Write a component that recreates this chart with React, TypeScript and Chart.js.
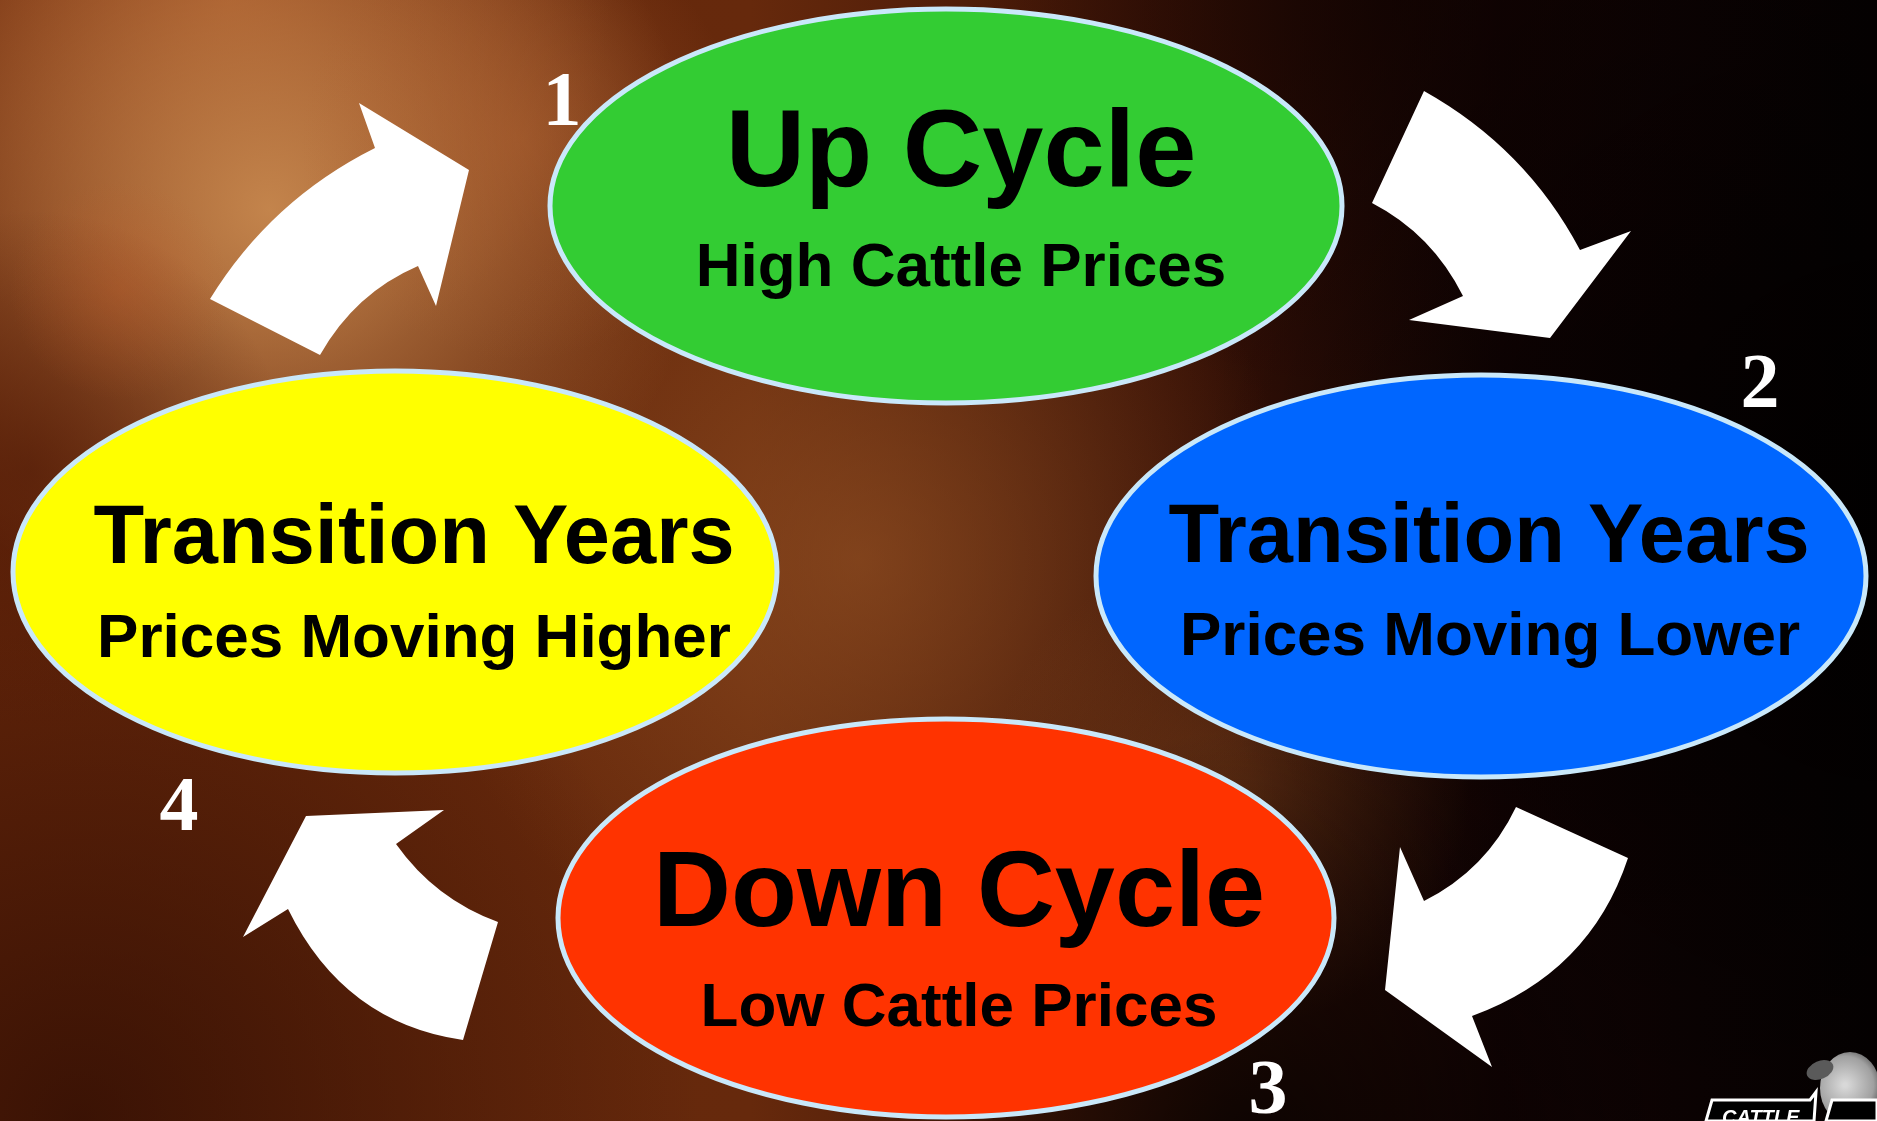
import React, { useEffect, useRef } from "react";
import { Chart, registerables } from "chart.js";

Chart.register(...registerables);

const W = 1877;
const H = 1121;

// ---- diagram content ----
const stageNumbers = ["1", "2", "3", "4"];
const stageTitles = ["Up Cycle", "Transition Years", "Down Cycle", "Transition Years"];
const stageSubtitles = ["High Cattle Prices", "Prices Moving Lower", "Low Cattle Prices", "Prices Moving Higher"];

// ---- layout (diagram units, mapped through the chart scales) ----
const ellipseCX = [946, 1481, 946, 395];
const ellipseCY = [206, 576, 918, 572];
const ellipseRX = [396, 385, 388, 382];
const ellipseRY = [197, 201, 199, 201];
const titleX = [961, 1489, 959, 414];
const titleY = [186, 562, 926, 563];
const titleSize = [110, 83, 108, 83];
const subX = [961, 1490, 959, 414];
const subY = [286, 655, 1026, 657];
const numberX = [562, 1760, 1268, 179];
const numberY = [125, 407, 1113, 830];

// curved block arrows (M / Q / L commands)
const arrowPaths: (string | number)[][][] = [
  [["M", 210, 299], ["Q", 271, 200, 375, 148], ["L", 359, 103], ["L", 469, 170], ["L", 436, 306], ["L", 418, 266], ["Q", 355, 293, 320, 355]],
  [["M", 1424, 91], ["Q", 1526, 148, 1580, 250], ["L", 1631, 231], ["L", 1550, 338], ["L", 1409, 320], ["L", 1463, 296], ["Q", 1432, 234, 1372, 203]],
  [["M", 1516, 807], ["L", 1628, 858], ["Q", 1590, 973, 1472, 1016], ["L", 1492, 1067], ["L", 1385, 990], ["L", 1400, 847], ["L", 1424, 901], ["Q", 1486, 870, 1516, 807]],
  [["M", 498, 922], ["Q", 435, 899, 396, 844], ["L", 444, 810], ["L", 306, 816], ["L", 243, 937], ["L", 288, 909], ["Q", 344, 1023, 463, 1040]],
];

// ---- styles ----
const fillColors = ["#33cc33", "#0066ff", "#ff3300", "#ffff00"];
const borderColor = "#c9e8fa";
const SANS = '"Liberation Sans", Arial, sans-serif';
const SERIF = '"Liberation Serif", "Times New Roman", serif';

function radial(ctx: CanvasRenderingContext2D, x: number, y: number, r: number, color: string, w: number, h: number) {
  const g = ctx.createRadialGradient(x, y, 0, x, y, r);
  g.addColorStop(0, color);
  g.addColorStop(1, color.replace(/[\d.]+\)$/, "0)"));
  ctx.fillStyle = g;
  ctx.fillRect(0, 0, w, h);
}

const diagramPlugin = {
  id: "cycleDiagram",
  beforeDraw(chart: any) {
    const ctx: CanvasRenderingContext2D = chart.ctx;
    const w = chart.width, h = chart.height;
    ctx.save();
    const g = ctx.createLinearGradient(0, 0, w, 0);
    g.addColorStop(0, "#66260a");
    g.addColorStop(0.4, "#66290c");
    g.addColorStop(0.62, "#3a1206");
    g.addColorStop(0.8, "#120303");
    g.addColorStop(1, "#050101");
    ctx.fillStyle = g;
    ctx.fillRect(0, 0, w, h);
    radial(ctx, 230, 0, 380, "rgba(185,92,40,0.6)", w, h);
    radial(ctx, 270, 210, 430, "rgba(208,146,86,0.85)", w, h);
    radial(ctx, 520, 140, 220, "rgba(180,100,50,0.45)", w, h);
    radial(ctx, 860, 560, 440, "rgba(160,92,42,0.55)", w, h);
    radial(ctx, 1230, 790, 240, "rgba(150,85,35,0.4)", w, h);
    radial(ctx, 1900, 520, 700, "rgba(0,0,0,0.8)", w, h);
    radial(ctx, 1400, 0, 420, "rgba(12,2,1,0.65)", w, h);
    radial(ctx, 1250, 1150, 420, "rgba(0,0,0,0.75)", w, h);
    radial(ctx, 80, 1121, 620, "rgba(40,10,2,0.7)", w, h);
    radial(ctx, 30, 470, 260, "rgba(80,26,6,0.65)", w, h);
    radial(ctx, 120, 290, 110, "rgba(190,90,40,0.35)", w, h);
    ctx.restore();
  },
  afterDatasetsDraw(chart: any) {
    const ctx: CanvasRenderingContext2D = chart.ctx;
    const xs = chart.scales.x, ys = chart.scales.y;
    const px = (v: number) => xs.getPixelForValue(v);
    const py = (v: number) => ys.getPixelForValue(v);
    ctx.save();

    // arrows
    ctx.fillStyle = "#ffffff";
    arrowPaths.forEach((cmds) => {
      ctx.beginPath();
      cmds.forEach((c) => {
        const t = c[0];
        const a = c.slice(1) as number[];
        if (t === "M") ctx.moveTo(px(a[0]), py(a[1]));
        else if (t === "L") ctx.lineTo(px(a[0]), py(a[1]));
        else ctx.quadraticCurveTo(px(a[0]), py(a[1]), px(a[2]), py(a[3]));
      });
      ctx.closePath();
      ctx.fill();
    });

    // ellipses
    stageTitles.forEach((_, i) => {
      const cx = px(ellipseCX[i]), cy = py(ellipseCY[i]);
      const rx = Math.abs(px(ellipseCX[i] + ellipseRX[i]) - cx);
      const ry = Math.abs(py(ellipseCY[i] + ellipseRY[i]) - cy);
      ctx.beginPath();
      ctx.ellipse(cx, cy, rx, ry, 0, 0, Math.PI * 2);
      ctx.fillStyle = fillColors[i];
      ctx.fill();
      ctx.lineWidth = 5;
      ctx.strokeStyle = borderColor;
      ctx.stroke();
    });

    // texts
    ctx.fillStyle = "#000000";
    ctx.textAlign = "center";
    ctx.textBaseline = "alphabetic";
    stageTitles.forEach((t, i) => {
      ctx.font = `bold ${titleSize[i]}px ${SANS}`;
      ctx.fillText(t, px(titleX[i]), py(titleY[i]));
      ctx.font = `bold 62px ${SANS}`;
      ctx.fillText(stageSubtitles[i], px(subX[i]), py(subY[i]));
    });

    // step numbers
    ctx.fillStyle = "#ffffff";
    ctx.font = `bold 78px ${SERIF}`;
    stageNumbers.forEach((n, i) => {
      ctx.fillText(n, px(numberX[i]), py(numberY[i]));
    });

    // logo fragment (bottom-right)
    const lg = ctx.createRadialGradient(px(1845), py(1085), 2, px(1845), py(1085), 40);
    lg.addColorStop(0, "#d8d8d8");
    lg.addColorStop(0.7, "#a0a0a0");
    lg.addColorStop(1, "#505050");
    ctx.fillStyle = lg;
    ctx.beginPath();
    ctx.ellipse(px(1850), py(1088), 30, 36, 0, 0, Math.PI * 2);
    ctx.fill();
    ctx.fillStyle = "#5a5a5a";
    ctx.beginPath();
    ctx.ellipse(px(1820), py(1070), 14, 9, -0.4, 0, Math.PI * 2);
    ctx.fill();
    ctx.fillStyle = "#000000";
    ctx.strokeStyle = "#ffffff";
    ctx.lineWidth = 3;
    ctx.beginPath();
    ctx.moveTo(px(1712), py(1100));
    ctx.lineTo(px(1810), py(1100));
    ctx.lineTo(px(1816), py(1092));
    ctx.lineTo(px(1814), py(1121));
    ctx.lineTo(px(1706), py(1121));
    ctx.closePath();
    ctx.fill();
    ctx.stroke();
    ctx.beginPath();
    ctx.moveTo(px(1832), py(1100));
    ctx.lineTo(px(1877), py(1100));
    ctx.lineTo(px(1877), py(1121));
    ctx.lineTo(px(1826), py(1121));
    ctx.closePath();
    ctx.fill();
    ctx.stroke();
    ctx.fillStyle = "#ffffff";
    ctx.font = `italic bold 20px ${SANS}`;
    ctx.textAlign = "left";
    ctx.fillText("CATTLE", px(1722), py(1124));
    ctx.restore();
  },
};

export default function App() {
  const ref = useRef<HTMLCanvasElement | null>(null);
  useEffect(() => {
    document.body.style.margin = "0";
    const canvas = ref.current;
    if (!canvas) return;
    const chart = new Chart(canvas, {
      type: "scatter",
      data: {
        datasets: [
          {
            label: "stages",
            data: ellipseCX.map((x, i) => ({ x, y: ellipseCY[i] })),
            pointRadius: 0,
            showLine: false,
          },
        ],
      },
      options: {
        responsive: false,
        maintainAspectRatio: false,
        animation: false,
        devicePixelRatio: 1,
        events: [],
        layout: { padding: 0 },
        plugins: {
          legend: { display: false },
          tooltip: { enabled: false },
          title: { display: false },
        },
        scales: {
          x: { type: "linear", min: 0, max: W, display: false },
          y: { type: "linear", min: 0, max: H, reverse: true, display: false },
        },
      },
      plugins: [diagramPlugin],
    } as any);
    return () => chart.destroy();
  }, []);
  return (
    <div style={{ width: W, height: H, overflow: "hidden" }}>
      <canvas ref={ref} width={W} height={H} style={{ display: "block", width: W, height: H }} />
    </div>
  );
}
